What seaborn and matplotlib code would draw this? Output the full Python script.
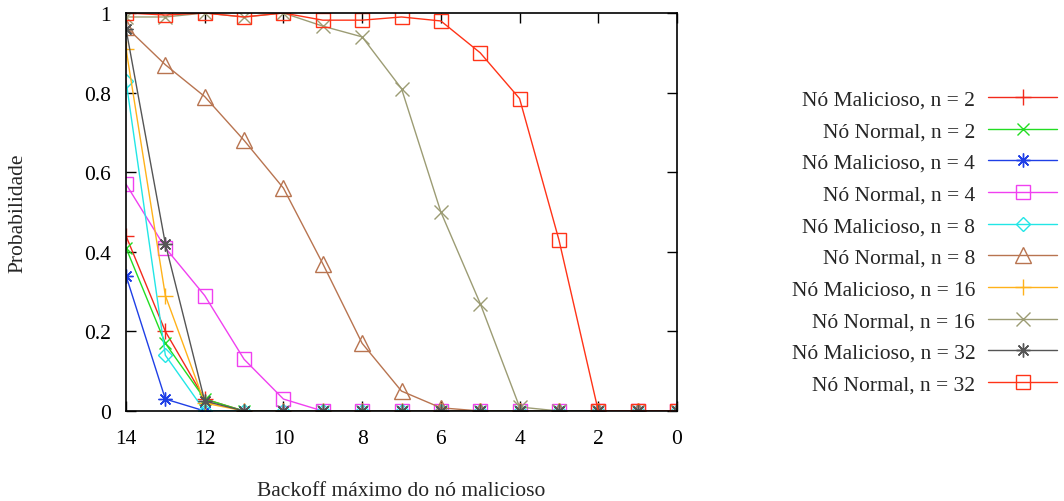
import matplotlib
matplotlib.use("Agg")
import matplotlib.pyplot as plt
import seaborn as sns
import numpy as np

backoff = [14, 13, 12, 11, 10, 9, 8, 7, 6, 5, 4, 3, 2, 1, 0]

mal_n2 = [0.44, 0.20, 0.03, 0, 0, 0, 0, 0, 0, 0, 0, 0, 0, 0, 0]
norm_n2 = [0.41, 0.17, 0.03, 0, 0, 0, 0, 0, 0, 0, 0, 0, 0, 0, 0]
mal_n4 = [0.34, 0.03, 0.0, 0, 0, 0, 0, 0, 0, 0, 0, 0, 0, 0, 0]
norm_n4 = [0.57, 0.41, 0.29, 0.13, 0.03, 0, 0, 0, 0, 0, 0, 0, 0, 0, 0]
mal_n8 = [0.83, 0.14, 0.0, 0, 0, 0, 0, 0, 0, 0, 0, 0, 0, 0, 0]
norm_n8 = [0.965, 0.87, 0.79, 0.68, 0.56, 0.37, 0.17, 0.05, 0.008, 0, 0, 0, 0, 0, 0]
mal_n16 = [0.91, 0.29, 0.02, 0, 0, 0, 0, 0, 0, 0, 0, 0, 0, 0, 0]
norm_n16 = [0.99, 0.99, 1.0, 0.99, 1.0, 0.967, 0.94, 0.81, 0.50, 0.27, 0.01, 0, 0, 0, 0]
mal_n32 = [0.96, 0.42, 0.025, 0, 0, 0, 0, 0, 0, 0, 0, 0, 0, 0, 0]
norm_n32 = [1.0, 0.995, 1.0, 0.99, 1.0, 0.982, 0.982, 0.99, 0.98, 0.90, 0.785, 0.43, 0.0, 0.0, 0.0]

labels = ["Nó Malicioso, n = 2", "Nó Normal, n = 2",
          "Nó Malicioso, n = 4", "Nó Normal, n = 4",
          "Nó Malicioso, n = 8", "Nó Normal, n = 8",
          "Nó Malicioso, n = 16", "Nó Normal, n = 16",
          "Nó Malicioso, n = 32", "Nó Normal, n = 32"]
series = [mal_n2, norm_n2, mal_n4, norm_n4, mal_n8, norm_n8,
          mal_n16, norm_n16, mal_n32, norm_n32]
colors = ["#f22a1c", "#22dd22", "#1f3fe6", "#f040f0", "#22e6e6",
          "#b87450", "#ffb21a", "#9c9c74", "#555555", "#ff3318"]
markers = ["+", "x", (8, 2, 0), "s", "D", "^", "+", "x", (8, 2, 0), "s"]
msizes = [11, 9, 10, 10, 7, 11, 11, 10, 10, 10]

xticks = [14, 12, 10, 8, 6, 4, 2, 0]
yticks = [0, 0.2, 0.4, 0.6, 0.8, 1.0]
ytick_labels = ["0", "0.2", "0.4", "0.6", "0.8", "1"]

FS = 15.5

sns.set_style("ticks")
plt.rcParams["font.family"] = ["Liberation Serif", "DejaVu Serif"]

fig = plt.figure(figsize=(10.64, 5.02), dpi=100)
ax = fig.add_axes([126 / 1064, 1 - 412 / 502, 551 / 1064, 398 / 502])

for ys, lab, c, m, ms in zip(series, labels, colors, markers, msizes):
    sns.lineplot(x=backoff, y=ys, ax=ax, color=c, marker=m, markersize=ms,
                 markerfacecolor="none", markeredgecolor=c, markeredgewidth=1.0,
                 linewidth=1.0, label=lab, sort=False)

ax.set_xlim(14, 0)
ax.set_ylim(0, 1)
ax.set_xticks(xticks)
ax.set_xticklabels([str(v) for v in xticks])
ax.set_yticks(yticks)
ax.set_yticklabels(ytick_labels)
ax.tick_params(axis="both", direction="in", length=7, width=1.0, labelsize=FS,
               top=True, right=True, color="black", labelcolor="black")
ax.tick_params(axis="x", pad=13)
ax.tick_params(axis="y", pad=11)
for sp in ax.spines.values():
    sp.set_visible(True)
    sp.set_color("black")
    sp.set_linewidth(1.2)

ax.set_xlabel("Backoff máximo do nó malicioso", fontsize=FS)
ax.set_ylabel("Probabilidade", fontsize=FS)
ax.xaxis.set_label_coords(0.5, (412 - 492) / 398)
ax.xaxis.label.set_va("center")
ax.yaxis.set_label_coords((18 - 126) / 551, 0.5)
ax.yaxis.label.set_va("center")
ax.yaxis.label.set_ha("center")

leg = ax.legend(loc="center right", bbox_to_anchor=(1057 / 1064, 1 - 243 / 502),
                bbox_transform=fig.transFigure, frameon=False, markerfirst=False,
                fontsize=FS, handlelength=3.2, handletextpad=0.6,
                labelspacing=0.54, borderpad=0, borderaxespad=0, numpoints=1)

fig.savefig("out.png", dpi=100)
